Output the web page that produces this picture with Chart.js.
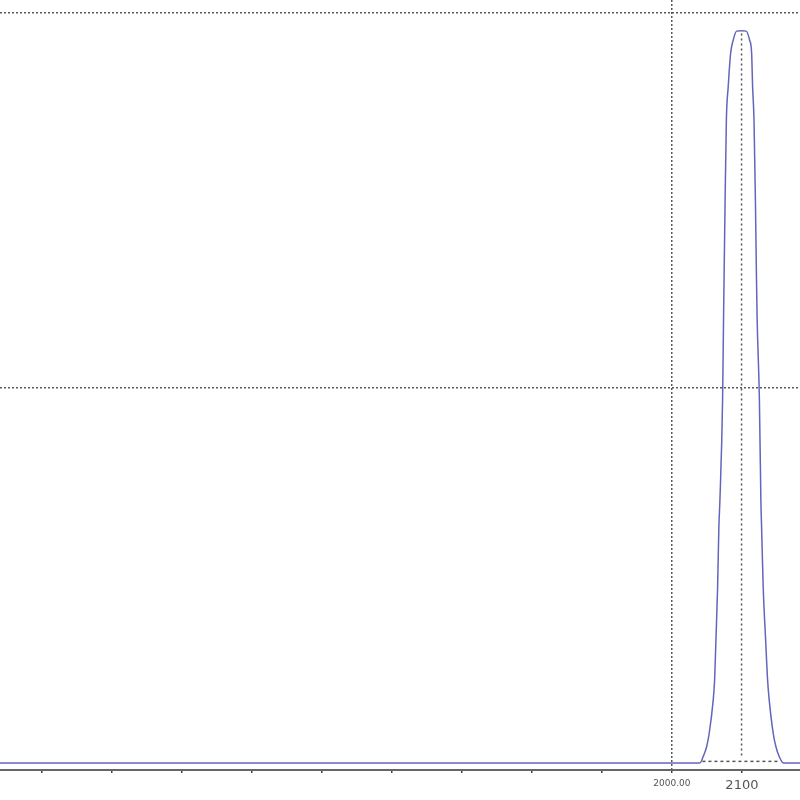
<!DOCTYPE html>
<html lang="en">
<head>
    <meta charset="UTF-8">
    <title>Peak near 2100</title>
    <style>
        * { margin: 0; padding: 0; box-sizing: border-box; }
        body { background-color: #fff; }
        .chart-container { width: 800px; height: 800px; position: relative; }
    </style>
</head>
<body>

    <div class="chart-container">
        <canvas id="peakChart"></canvas>
    </div>

    <script src="https://cdn.jsdelivr.net/npm/chart.js"></script>
    <script>
        // Values
        const curveX = [1040, 2040, 2044.7, 2049.6, 2053.3, 2059, 2061, 2062.9, 2065.3, 2067.1, 2068.6, 2072.4, 2073.8,
                        2074.6, 2076, 2077.8, 2080.4, 2083.9, 2087.6, 2092.4, 2099.5, 2106, 2111, 2113.9, 2115.3,
                        2117.3, 2119.3, 2120.7, 2121.7, 2125, 2127.1, 2128.1, 2130.4, 2133.9, 2136.7, 2139, 2144.7,
                        2148.6, 2153.3, 2159, 2183];
        const curveY = [0, 0, 0.017, 0.043, 0.079, 0.168, 0.221, 0.328, 0.47, 0.63, 0.701, 0.968, 1.19,
                        1.307, 1.501, 1.715, 1.803, 1.893, 1.928, 1.952, 1.953, 1.952, 1.928, 1.893, 1.803,
                        1.715, 1.501, 1.307, 1.19, 0.968, 0.701, 0.63, 0.47, 0.328, 0.221, 0.168, 0.079,
                        0.043, 0.017, 0, 0];

        // dashed markers: vertical at the peak, horizontal across the base
        const peakMarkerX = [2099.5, 2099.5];
        const peakMarkerY = [0.02, 1.95];
        const baseMarkerX = [2043.6, 2155];
        const baseMarkerY = [0.004, 0.004];

        const xTickValues = [1100, 1200, 1300, 1400, 1500, 1600, 1700, 1800, 1900, 2000, 2100];
        const xTickLabels = { 2000: "2000.00", 2100: "2100" };
        const xGridValues = [2000];
        const yGridValues = [1, 2];

        const toPoints = (xs, ys) => xs.map((x, i) => ({ x: x, y: ys[i] }));

        const peakConfig = {
            type: "line",
            data: {
                datasets: [
                    {
                        label: "curve",
                        data: toPoints(curveX, curveY),
                        borderColor: "#6464bc",
                        borderWidth: 1.5,
                        pointRadius: 0,
                        cubicInterpolationMode: "monotone"
                    },
                    {
                        label: "peak",
                        data: toPoints(peakMarkerX, peakMarkerY),
                        borderColor: "#555",
                        borderWidth: 1.5,
                        borderDash: [2, 3],
                        pointRadius: 0
                    },
                    {
                        label: "base",
                        data: toPoints(baseMarkerX, baseMarkerY),
                        borderColor: "#555",
                        borderWidth: 1.5,
                        borderDash: [3, 3],
                        pointRadius: 0
                    }
                ]
            },
            options: {
                responsive: true,
                maintainAspectRatio: false,
                animation: false,
                layout: { padding: 0 },
                plugins: {
                    legend: { display: false },
                    tooltip: { enabled: false }
                },
                scales: {
                    x: {
                        type: "linear",
                        min: 1040,
                        max: 2183,
                        afterBuildTicks: axis => { axis.ticks = xTickValues.map(v => ({ value: v })); },
                        afterFit: scale => { scale.height = 30; },
                        // border.dash is what dashes the grid lines in v4
                        border: { display: true, color: "#666", width: 2, dash: [2, 2] },
                        grid: {
                            color: ctx => xGridValues.includes(ctx.tick && ctx.tick.value) ? "#5a5a5a" : "rgba(0,0,0,0)",
                            lineWidth: 1.5,
                            drawTicks: true,
                            tickLength: 3,
                            tickColor: "#444",
                            tickBorderDash: [],
                            tickWidth: 1.5
                        },
                        ticks: {
                            autoSkip: false,
                            maxRotation: 0,
                            padding: 5,
                            color: "#555",
                            callback: value => xTickLabels[value] || "",
                            font: ctx => ctx.tick && ctx.tick.value === 2000
                                ? { family: "DejaVu Sans", size: 9 }
                                : { family: "DejaVu Sans", size: 13 }
                        }
                    },
                    y: {
                        type: "linear",
                        min: -0.019,
                        max: 2.035,
                        afterBuildTicks: axis => { axis.ticks = yGridValues.map(v => ({ value: v })); },
                        afterFit: scale => { scale.width = 0; },
                        border: { display: false, dash: [2, 2] },
                        grid: {
                            color: "#5a5a5a",
                            lineWidth: 1.5,
                            drawTicks: false
                        },
                        ticks: { display: false }
                    }
                }
            }
        };

        const peakChart = new Chart(document.getElementById("peakChart"), peakConfig);
    </script>
</body>
</html>
